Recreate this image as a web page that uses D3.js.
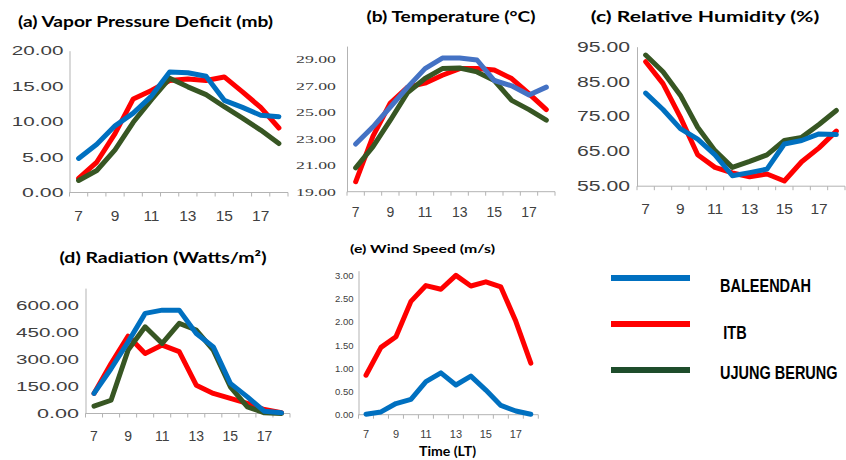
<!DOCTYPE html>
<html>
<head>
<meta charset="utf-8">
<script src="https://cdn.jsdelivr.net/npm/d3@7"></script>
<style>
  body { margin: 0; background: #fff; }
  svg { display: block; }
  .ttl { font-family: Lato, "Liberation Sans", sans-serif; font-weight: bold; fill: #000; }
  .lg { font-family: "Liberation Sans", Arial, sans-serif; font-weight: bold; fill: #000; }
</style>
</head>
<body>
<div id="foo"></div>
<script>
// hours of the day (local time)
const hours = [7, 8, 9, 10, 11, 12, 13, 14, 15, 16, 17, 18];
const hourLabels = [7, 9, 11, 13, 15, 17];
const stations = ["BALEENDAH", "ITB", "UJUNG BERUNG"];

// (a) vapor pressure deficit, mb
const vpdBaleendah   = [4.8, 6.8, 9.4, 11.2, 13.6, 17.0, 16.9, 16.4, 13.0, 12.0, 10.9, 10.7];
const vpdItb         = [2.0, 4.3, 8.3, 13.2, 14.4, 15.8, 16.0, 15.8, 16.3, 14.2, 12.0, 9.1];
const vpdUjungBerung = [1.7, 3.1, 6.0, 9.9, 13.1, 16.1, 14.9, 13.8, 12.1, 10.5, 8.8, 6.9];
const vpdTicks = [0, 5, 10, 15, 20];

// (b) temperature, deg C
const tBaleendah   = [22.6, 23.9, 25.4, 26.9, 28.3, 29.1, 29.1, 28.95, 27.4, 27.0, 26.3, 26.9];
const tItb         = [19.75, 23.2, 25.7, 26.9, 27.2, 27.8, 28.3, 28.3, 28.2, 27.55, 26.4, 25.2];
const tUjungBerung = [20.8, 22.4, 24.4, 26.5, 27.55, 28.3, 28.35, 28.05, 27.4, 25.9, 25.2, 24.4];
const tTicks = [19, 21, 23, 25, 27, 29];

// (c) relative humidity, %
const rhBaleendah   = [81.7, 77.0, 71.5, 68.5, 64.0, 58.0, 58.9, 59.9, 67.1, 68.1, 70.0, 69.8];
const rhItb         = [90.7, 84.4, 74.8, 64.0, 60.4, 58.8, 57.7, 58.5, 56.5, 62.0, 66.0, 70.8];
const rhUjungBerung = [92.6, 87.8, 81.1, 71.9, 65.2, 60.4, 62.1, 64.0, 68.1, 69.0, 72.7, 76.7];
const rhTicks = [55, 65, 75, 85, 95];

// (d) radiation, W/m2
const radBaleendah   = [112, 250, 400, 559, 577, 577, 447, 372, 168, 93, 12, 4];
const radItb         = [112, 279, 432, 335, 382, 345, 158, 112, 84, 56, 22, 4];
const radUjungBerung = [41, 74, 354, 484, 391, 503, 466, 354, 149, 37, 4, 0];
const radTicks = [0, 150, 300, 450, 600];

// (e) wind speed, m/s (no Ujung Berung series)
const windBaleendah = [0.01, 0.06, 0.24, 0.33, 0.71, 0.90, 0.64, 0.83, 0.53, 0.20, 0.08, 0.01];
const windItb       = [0.85, 1.45, 1.68, 2.44, 2.78, 2.70, 3.00, 2.77, 2.86, 2.75, 2.01, 1.11];
const windTicks = [0, 0.5, 1, 1.5, 2, 2.5, 3];

const blue = "#0070c0", red = "#ff0000", green = "#375623";

const svg = d3.select('#foo').append("svg")
  .attr("width", 846)
  .attr("height", 460);

function panel(p) {
  const x = d3.scaleBand().domain(hours).range([p.x0, p.x1]);
  const y = d3.scaleLinear().domain(p.domain).range([p.yb, p.yt]);
  const g = svg.append("g");

  // y axis: plain line with labels
  const ya = g.append("g")
    .attr("transform", `translate(${p.x0},0)`)
    .call(d3.axisLeft(y).tickValues(p.ticks).tickSize(0).tickPadding(p.pad)
      .tickFormat(d3.format(".2f")));
  ya.select(".domain").attr("stroke", "#b3b3b3");
  ya.selectAll("text")
    .style("font-family", p.yFont)
    .style("font-size", p.yFs + "px")
    .attr("fill", "#404040")
    .attr("textLength", d => p.yCw ? d3.format(".2f")(d).length * p.yCw : null)
    .attr("lengthAdjust", "spacingAndGlyphs");

  // x axis: tick marks between categories
  const base = y(p.domain[0]);
  g.append("line")
    .attr("x1", p.x0).attr("x2", p.x1)
    .attr("y1", base).attr("y2", base)
    .attr("stroke", "#b3b3b3");
  g.selectAll(".xt")
    .data(hours.concat([null]))
    .enter().append("line")
    .attr("x1", (d, i) => p.x0 + i * x.bandwidth())
    .attr("x2", (d, i) => p.x0 + i * x.bandwidth())
    .attr("y1", base).attr("y2", base + 4)
    .attr("stroke", "#b3b3b3");
  g.selectAll(".xl")
    .data(hourLabels)
    .enter().append("text")
    .attr("x", d => x(d) + x.bandwidth() / 2)
    .attr("y", p.xBase)
    .attr("text-anchor", "middle")
    .style("font-family", "'Liberation Sans', Arial, sans-serif")
    .style("font-size", p.xFs + "px")
    .attr("fill", "#404040")
    .text(d => d);

  // series, drawn so that blue ends on top
  p.series.forEach(s => {
    g.append("path")
      .datum(s.values)
      .attr("fill", "none")
      .attr("stroke", s.color)
      .attr("stroke-width", 5)
      .attr("stroke-linejoin", "round")
      .attr("stroke-linecap", "round")
      .attr("d", d3.line()
        .x((d, i) => x(hours[i]) + x.bandwidth() / 2)
        .y(d => y(d)));
  });

  g.append("text")
    .attr("class", "ttl")
    .attr("x", p.tx).attr("y", p.ty)
    .attr("text-anchor", "middle")
    .style("font-size", p.tFs + "px")
    .attr("textLength", p.tLen)
    .attr("lengthAdjust", "spacingAndGlyphs")
    .text(p.title);
}

panel({
  title: "(a) Vapor Pressure Deficit (mb)", tx: 145.5, ty: 26.7, tFs: 15, tLen: 255,
  x0: 69.5, x1: 288, yb: 192.5, yt: 50.7, domain: [0, 20], ticks: vpdTicks,
  pad: 6, yFont: "'Liberation Sans', Arial, sans-serif", yFs: 13, yCw: 10.35,
  xFs: 15.5, xBase: 220.5,
  series: [
    { color: red, values: vpdItb },
    { color: green, values: vpdUjungBerung },
    { color: blue, values: vpdBaleendah }
  ]
});

panel({
  title: "(b) Temperature (°C)", tx: 451, ty: 21.7, tFs: 15, tLen: 169,
  x0: 347, x1: 555, yb: 191.7, yt: 46.1, domain: [19, 30], ticks: tTicks,
  pad: 11, yFont: "'Liberation Serif', 'Times New Roman', serif", yFs: 11, yCw: 8,
  xFs: 14, xBase: 217.3,
  series: [
    { color: red, values: tItb },
    { color: green, values: tUjungBerung },
    { color: "#4472c4", values: tBaleendah }
  ]
});

panel({
  title: "(c) Relative Humidity (%)", tx: 705, ty: 21.7, tFs: 15, tLen: 228.6,
  x0: 637, x1: 845, yb: 186.2, yt: 46.7, domain: [55, 95], ticks: rhTicks,
  pad: 7, yFont: "'Liberation Sans', Arial, sans-serif", yFs: 14, yCw: 10.6,
  xFs: 15.5, xBase: 214,
  series: [
    { color: red, values: rhItb },
    { color: green, values: rhUjungBerung },
    { color: blue, values: rhBaleendah }
  ]
});

panel({
  title: "(d) Radiation (Watts/m²)", tx: 163, ty: 263.3, tFs: 15, tLen: 207,
  x0: 85.5, x1: 290, yb: 413.5, yt: 288.1, domain: [0, 700], ticks: radTicks,
  pad: 6.5, yFont: "'Liberation Sans', Arial, sans-serif", yFs: 12, yCw: 10.5,
  xFs: 14, xBase: 440.7,
  series: [
    { color: red, values: radItb },
    { color: green, values: radUjungBerung },
    { color: blue, values: radBaleendah }
  ]
});

panel({
  title: "(e) Wind Speed (m/s)", tx: 422.5, ty: 252.7, tFs: 10.7, tLen: 145,
  x0: 358.5, x1: 538.3, yb: 414.7, yt: 270.7, domain: [0, 3.1], ticks: windTicks,
  pad: 5, yFont: "'Liberation Sans', Arial, sans-serif", yFs: 9.5, yCw: 0,
  xFs: 11, xBase: 437.5,
  series: [
    { color: red, values: windItb },
    { color: blue, values: windBaleendah }
  ]
});

svg.append("text")
  .attr("class", "ttl")
  .attr("x", 447.5).attr("y", 456)
  .attr("text-anchor", "middle")
  .style("font-size", "13px")
  .attr("textLength", 57)
  .attr("lengthAdjust", "spacingAndGlyphs")
  .text("Time (LT)");

// legend (text stretched upright like the original)
const legendColors = [blue, red, "#1e4d2b"];
const legendY = [278, 324, 370];
const legendTextX = [720, 723.3, 720];
const legendTextY = [292.3, 339.3, 379.3];

const lg = svg.append("g");
lg.selectAll("line")
  .data(stations)
  .enter().append("line")
  .attr("x1", 611).attr("x2", 690)
  .attr("y1", (d, i) => legendY[i]).attr("y2", (d, i) => legendY[i])
  .attr("stroke", (d, i) => legendColors[i])
  .attr("stroke-width", 6);
lg.selectAll("text")
  .data(stations)
  .enter().append("text")
  .attr("class", "lg")
  .attr("transform", (d, i) => `translate(${legendTextX[i]},${legendTextY[i]}) scale(1,1.24)`)
  .style("font-size", "14.5px")
  .text(d => d);
</script>
</body>
</html>
